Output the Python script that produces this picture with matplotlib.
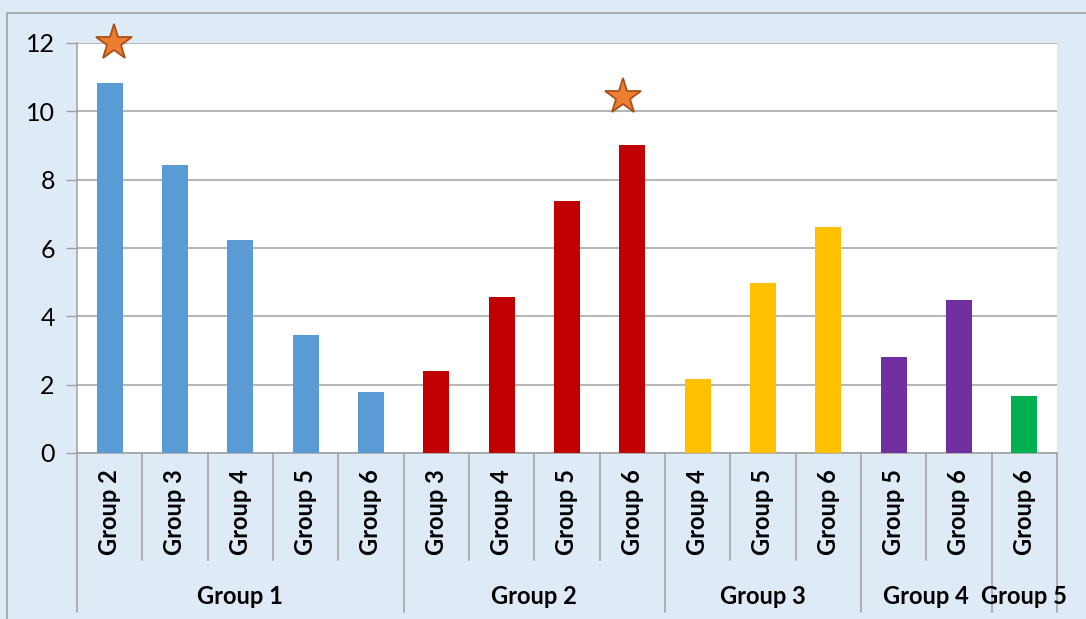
import matplotlib
matplotlib.use("Agg")
import matplotlib.pyplot as plt
from matplotlib.transforms import blended_transform_factory
from matplotlib.lines import Line2D
from matplotlib.patches import Rectangle

# ---- data ----
outer_groups = ["Group 1", "Group 2", "Group 3", "Group 4", "Group 5"]
inner_labels = [
    ["Group 2", "Group 3", "Group 4", "Group 5", "Group 6"],
    ["Group 3", "Group 4", "Group 5", "Group 6"],
    ["Group 4", "Group 5", "Group 6"],
    ["Group 5", "Group 6"],
    ["Group 6"],
]
values = [
    [10.83, 8.43, 6.23, 3.45, 1.79],
    [2.40, 4.57, 7.37, 9.01],
    [2.17, 4.98, 6.61],
    [2.81, 4.48],
    [1.67],
]
group_colors = ["#5B9BD5", "#C00000", "#FFC000", "#7030A0", "#00B050"]
star_x = [0.06, 7.85]
star_values = [12.0, 10.42]
yticks = [0, 2, 4, 6, 8, 10, 12]

W, H = 1086, 619
fig = plt.figure(figsize=(W / 100, H / 100), dpi=100)
fig.patch.set_facecolor("#DEEAF6")
plt.rcParams["font.family"] = ["Lato", "DejaVu Sans"]

# outer border (only left/top visible)
fig.add_artist(Rectangle((7 / W, -0.1), 1.2, (H - 13) / H + 0.1,
                         transform=fig.transFigure, fill=False,
                         edgecolor="#A0A0A0", linewidth=1.2))

left, right, top, bottom = 77, 1057, 43, 453
ax = fig.add_axes([left / W, (H - bottom) / H, (right - left) / W, (bottom - top) / H])
ax.set_facecolor("white")

n = sum(len(v) for v in values)
x = 0
bounds = [-0.5]
for g, (labs, vals, col) in enumerate(zip(inner_labels, values, group_colors)):
    xs = list(range(x, x + len(vals)))
    ax.bar(xs, vals, width=0.4, color=col, zorder=3)
    x += len(vals)
    bounds.append(x - 0.5)

ax.set_xlim(-0.5, n - 0.5)
ax.set_ylim(0, 12)
ax.set_yticks(yticks)
ax.set_yticklabels([str(t) for t in yticks], fontsize=18)
ax.tick_params(axis="y", length=8, width=1, color="#A0A0A0", pad=8)
ax.set_xticks([])
ax.grid(axis="y", color="#A0A0A0", linewidth=1.1, zorder=0)
for s in ["top", "right"]:
    ax.spines[s].set_visible(False)
for s in ["left", "bottom"]:
    ax.spines[s].set_color("#A0A0A0")
    ax.spines[s].set_linewidth(1.1)

# stars
ax.plot(star_x, star_values, linestyle="none", marker="*", markersize=27,
        markerfacecolor="#ED7D31", markeredgecolor="#A9501A", markeredgewidth=1.3,
        zorder=5, clip_on=False)

# category axis
trans = blended_transform_factory(ax.transData, ax.transAxes)
h_ax = bottom - top
def ay(py):
    return (bottom - py) / h_ax

x = 0
for labs in inner_labels:
    for lab in labs:
        ax.text(x, ay(469), lab, rotation=90, ha="center", va="top",
                fontsize=17, fontweight="bold", transform=trans, clip_on=False)
        x += 1
for k in range(1, n):
    xb = k - 0.5
    if xb in bounds:
        continue
    ax.add_line(Line2D([xb, xb], [ay(453), ay(560)], transform=trans,
                       color="#A0A0A0", linewidth=1.1, clip_on=False))
for xb in bounds:
    ax.add_line(Line2D([xb, xb], [ay(453), ay(612)], transform=trans,
                       color="#A0A0A0", linewidth=1.1, clip_on=False))
for g, name in enumerate(outer_groups):
    cx = (bounds[g] + bounds[g + 1]) / 2
    ax.text(cx, ay(597), name, ha="center", va="center", fontsize=17,
            fontweight="bold", transform=trans, clip_on=False)

fig.savefig("out.png", dpi=100, facecolor=fig.get_facecolor())
